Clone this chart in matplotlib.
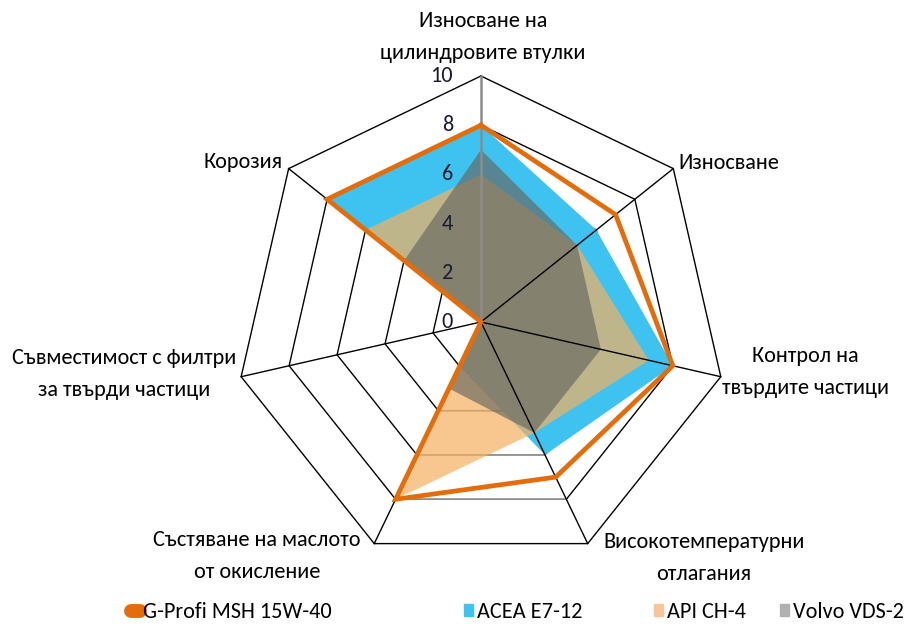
import numpy as np
import matplotlib.pyplot as plt
from matplotlib.lines import Line2D
from matplotlib.patches import Patch

plt.rcParams['font.family'] = ['Carlito', 'Fira Sans Condensed', 'DejaVu Sans']

categories = ['Износване на\nцилиндровите втулки', 'Износване', 'Контрол на\nтвърдите частици',
              'Високотемпературни\nотлагания', 'Състяване на маслото\nот окисление',
              'Съвместимост с филтри\nза твърди частици', 'Корозия']
series_names = ['G-Profi MSH 15W-40', 'ACEA E7-12', 'API CH-4', 'Volvo VDS-2']
gprofi = [8, 7, 8, 7, 8, 0, 8]
acea = [8, 6, 8, 6, 2, 0, 8]
api = [6, 5, 7, 5, 8, 0, 6]
volvo = [7, 5, 5, 5, 3, 0, 4]
rings = [2, 4, 6, 8, 10]

n = len(categories)
theta = np.linspace(0, 2 * np.pi, n, endpoint=False)


def closed(v):
    return list(v) + [v[0]]


th = closed(theta)

W, H = 915, 628
FS = 16
fig = plt.figure(figsize=(W / 100, H / 100), dpi=100)
ax = fig.add_axes([0.2568, 0.0956, 0.5377, 0.7834], projection='polar')
ax.set_theta_offset(np.pi / 2)
ax.set_theta_direction(-1)
ax.set_ylim(0, 10)
ax.axis('off')

# grid rings (heptagons)
for r in rings:
    ax.plot(th, [r] * (n + 1), color='black', lw=1, zorder=1, clip_on=False)
    if r < 10:
        ax.plot(theta[3:5], [r, r], color='#a6a6a6', lw=1.2, zorder=1.5, clip_on=False)

# series fills
ax.fill(th, closed(acea), color='#3ec3f0', lw=0, zorder=2)
ax.fill(th, closed(api), color='#f5b060', alpha=0.7, lw=0, zorder=3)
ax.fill(th, closed(volvo), color='#666660', alpha=0.65, lw=0, zorder=4)

# spokes
for i, t in enumerate(theta):
    if i == 0:
        ax.plot([t, t], [0, 10], color='#8c8c8c', lw=1.8, zorder=5, clip_on=False)
    else:
        ax.plot([t, t], [0, 10], color='black', lw=1, zorder=5, clip_on=False)

ax.plot(th, closed(gprofi), color='#e46c0a', lw=3.4, zorder=6,
        solid_joinstyle='miter', clip_on=False)

# radial tick labels
for r in [0] + rings:
    ax.annotate(str(r), xy=(0, r), xytext=(-28, 0), textcoords='offset pixels',
                ha='right', va='center', fontsize=FS, color='#1a1a2e', zorder=7)

# category labels
label_pos = [(483, 37, 'center'), (678, 163, 'left'), (805, 372, 'center'),
             (704, 558, 'center'), (257, 556, 'center'), (124, 374, 'center'),
             (283, 162, 'right')]
for text, (x, y, ha) in zip(categories, label_pos):
    fig.text(x / W, 1 - y / H, text, ha=ha, va='center', fontsize=FS,
             linespacing=1.73, color='black')

# legend
handles = [Line2D([], [], color='#e46c0a', lw=10, solid_capstyle='round'),
           Patch(color='#3ec3f0'), Patch(color='#f8c49a'), Patch(color='#b0b0b0')]
leg_x = [131, 464, 654, 780]
for h, name, x in zip(handles, series_names, leg_x):
    hl = 0.4 if isinstance(h, Line2D) else 0.42
    fig.legend(handles=[h], labels=[name], loc='center left',
               bbox_to_anchor=(x / W, 1 - 612 / H), frameon=False, fontsize=FS,
               borderpad=0, borderaxespad=0, handlelength=hl, handleheight=0.42,
               handletextpad=0.15)

fig.savefig('out.png', dpi=100)
